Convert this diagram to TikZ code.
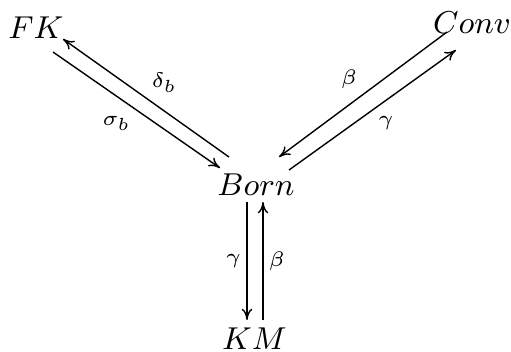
\documentclass[tikz,border=0pt]{standalone}
\usepackage{amsmath}
\usepackage{tikz}
\usetikzlibrary{arrows.meta}

\begin{document}
\begin{tikzpicture}[>={To[length=3.2pt,width=3pt]},obj/.style={font=\small,inner sep=0pt},lbl/.style={font=\small,inner sep=1.5pt}]
\useasboundingbox (0,0) rectangle (5.11,3.51);
\node[obj] (fk) at (0.36,3.235) {$FK$};
\node[obj] (conv) at (4.72,3.285) {$Conv$};
\node[obj] (born) at (2.56,1.665) {$Born$};
\node[obj] (km) at (2.545,0.125) {$KM$};
\draw[->] ([shift={(-0.27,0.275)}]born.center) -- node[lbl,above right] {$\scriptstyle\delta_b$} ([shift={(0.27,-0.115)}]fk.center);
\draw[->] ([shift={(0.17,-0.245)}]fk.center) -- node[lbl,below left] {$\scriptstyle\sigma_b$} ([shift={(-0.36,0.165)}]born.center);
\draw[->] ([shift={(-0.25,-0.095)}]conv.center) -- node[lbl,above left] {$\scriptstyle\beta$} ([shift={(0.23,0.275)}]born.center);
\draw[->] ([shift={(0.33,0.145)}]born.center) -- node[lbl,below right] {$\scriptstyle\gamma$} ([shift={(-0.16,-0.275)}]conv.center);
\draw[->] ([shift={(-0.09,-0.175)}]born.center) -- node[lbl,left] {$\scriptstyle\gamma$} ([shift={(-0.075,0.185)}]km.center);
\draw[->] ([shift={(0.085,0.185)}]km.center) -- node[lbl,right] {$\scriptstyle\beta$} ([shift={(0.07,-0.175)}]born.center);
\end{tikzpicture}
\end{document}
